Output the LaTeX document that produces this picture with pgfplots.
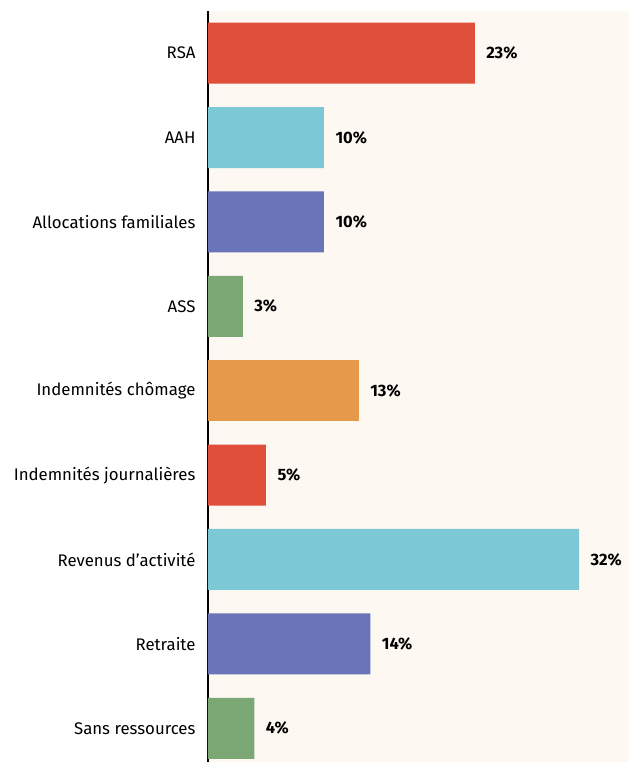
\documentclass[border=0pt]{standalone}
\usepackage{pgfplots}
\pgfplotsset{compat=1.18}
\usepackage{fontspec}
\setmainfont{Fira Sans}
\definecolor{bgcol}{HTML}{FDF8F2}
\definecolor{cred}{HTML}{E04F3A}
\definecolor{ccyan}{HTML}{7CC8D5}
\definecolor{cpurple}{HTML}{6A74B8}
\definecolor{cgreen}{HTML}{7BA774}
\definecolor{corange}{HTML}{E6994B}
\begin{document}
\begin{tikzpicture}
\begin{axis}[
  scale only axis,
  width=421pt, height=751pt,
  xbar, bar width=61pt, bar shift=0pt,
  y dir=reverse,
  xmin=0, xmax=36.3,
  ymin=-0.5, ymax=8.4,
  axis x line=none,
  axis y line*=left,
  y axis line style={black, line width=1.2pt},
  axis background/.style={fill=bgcol},
  ytick={0,...,8},
  yticklabels={RSA, AAH, Allocations familiales, ASS, Indemnités chômage,
    Indemnités journalières, Revenus d’activité, Retraite, Sans ressources},
  major tick length=0pt,
  /pgf/number format/assume math mode=true,
  yticklabel style={font=\fontsize{16.8}{20}\selectfont, xshift=-9pt},
  nodes near coords={\pgfmathprintnumber{\pgfplotspointmeta}\%},
  nodes near coords style={font=\fontsize{16.5}{20}\selectfont\bfseries, anchor=west, xshift=8pt},
  every axis plot/.append style={draw=none},
]
\addplot[fill=cred] coordinates {(23,0) (5,5)};
\addplot[fill=ccyan] coordinates {(10,1) (32,6)};
\addplot[fill=cpurple] coordinates {(10,2) (14,7)};
\addplot[fill=cgreen] coordinates {(3,3) (4,8)};
\addplot[fill=corange] coordinates {(13,4)};
\end{axis}
\pgfresetboundingbox
\path ([xshift=-208pt]current axis.south west) rectangle ([yshift=11pt]current axis.north east);
\end{tikzpicture}
\end{document}
